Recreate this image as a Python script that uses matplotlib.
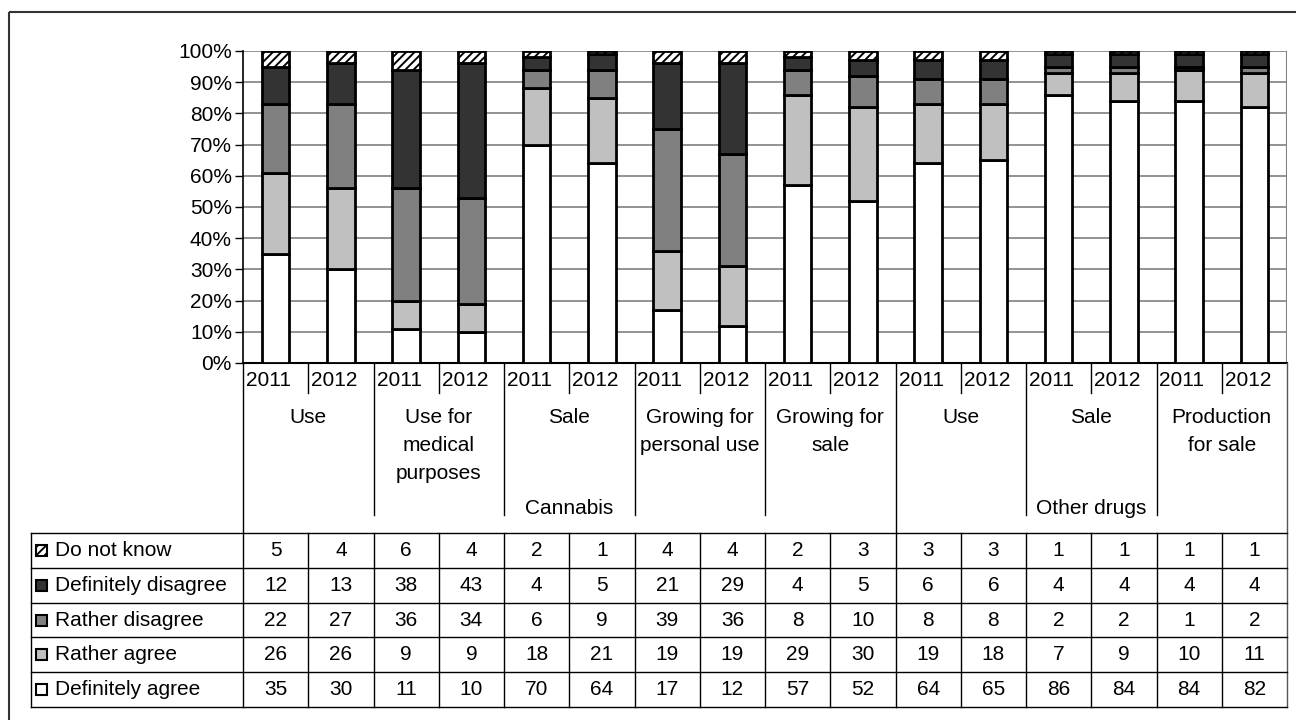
import matplotlib
matplotlib.use("Agg")
import matplotlib.pyplot as plt
from matplotlib.patches import Rectangle
import numpy as np

plt.rcParams['font.family'] = ['Liberation Sans', 'DejaVu Sans']
plt.rcParams['hatch.linewidth'] = 1.4

# survey answers (%), one column per year/topic
years = ["2011", "2012"] * 8
topics = ["Use", "Use for\nmedical\npurposes", "Sale", "Growing for\npersonal use",
          "Growing for\nsale", "Use", "Sale", "Production\nfor sale"]
groups = ["Cannabis", "Other drugs"]
group_sizes = [5, 3]

series = ["Definitely agree", "Rather agree", "Rather disagree", "Definitely disagree", "Do not know"]
definitely_agree = [35, 30, 11, 10, 70, 64, 17, 12, 57, 52, 64, 65, 86, 84, 84, 82]
rather_agree = [26, 26, 9, 9, 18, 21, 19, 19, 29, 30, 19, 18, 7, 9, 10, 11]
rather_disagree = [22, 27, 36, 34, 6, 9, 39, 36, 8, 10, 8, 8, 2, 2, 1, 2]
definitely_disagree = [12, 13, 38, 43, 4, 5, 21, 29, 4, 5, 6, 6, 4, 4, 4, 4]
do_not_know = [5, 4, 6, 4, 2, 1, 4, 4, 2, 3, 3, 3, 1, 1, 1, 1]

values = [definitely_agree, rather_agree, rather_disagree, definitely_disagree, do_not_know]
colors = ["white", "#c0c0c0", "#808080", "#333333", "white"]
hatches = [None, None, None, None, "////"]

W, H = 1296, 720
fig = plt.figure(figsize=(W / 100, H / 100), dpi=100)

# pixel layout
x0, x1 = 243, 1287
y_top, y_axis = 51, 363
n = len(years)
colw = (x1 - x0) / n

ax = fig.add_axes([x0 / W, 1 - y_axis / H, (x1 - x0) / W, (y_axis - y_top) / H])
xs = np.arange(n)
bottom = np.zeros(n)
for vals, c, h in zip(values, colors, hatches):
    pct = np.array(vals) / 100.0
    ax.bar(xs, pct, bottom=bottom, width=0.42, color=c, edgecolor="black",
           linewidth=2, hatch=h, zorder=3)
    bottom += pct
ax.set_xlim(-0.5, n - 0.5)
ax.set_ylim(0, 1)
ax.set_yticks(np.arange(0, 1.01, 0.1))
ax.set_yticklabels([f"{v}%" for v in range(0, 101, 10)], fontsize=15)
ax.set_xticks([])
ax.yaxis.grid(True, color="#808080", linewidth=1.2)
ax.tick_params(axis="y", length=6, width=1, color="black", pad=2)
for s in ["top", "right"]:
    ax.spines[s].set_visible(False)
ax.spines["left"].set_linewidth(1.2)
ax.spines["bottom"].set_linewidth(1.5)
ax.axvline(n - 0.5, color="#808080", linewidth=1.5)

# table overlay in pixel coordinates
tab = fig.add_axes([0, 0, 1, 1])
tab.set_xlim(0, W)
tab.set_ylim(H, 0)
tab.axis("off")

# outer frame
tab.add_patch(Rectangle((9, 12), W + 10, H + 10, fill=False, edgecolor="#333333", linewidth=1.5))

y_year = 393
y_topic = 515
y_rows = 533
y_bot = 707
row_h = (y_bot - y_rows) / len(series)
x_leg = 31
lw = 1.0

# category header lines
tab.plot([x0, x0], [y_axis, y_bot], color="black", lw=lw)
tab.plot([x1, x1], [y_axis, y_bot], color="#555555", lw=lw)
edges = np.cumsum(group_sizes) * 2
for i in range(1, n):
    xl = x0 + i * colw
    if i % 2 == 1:
        ye = y_year
    elif i in edges:
        ye = y_rows
    else:
        ye = y_topic
    tab.plot([xl, xl], [y_axis, ye], color="black", lw=lw)
    tab.plot([xl, xl], [y_rows, y_bot], color="black", lw=lw)

for i, yr in enumerate(years):
    tab.text(x0 + i * colw + 3, 381, yr, fontsize=15, ha="left", va="center")
for j, t in enumerate(topics):
    xc = x0 + (2 * j + 1) * colw
    tab.text(xc, 408, t, fontsize=15, ha="center", va="top", linespacing=1.6)
start = 0
for g, size in zip(groups, group_sizes):
    xc = x0 + (start + size) * colw
    tab.text(xc, 509, g, fontsize=15, ha="center", va="center")
    start += size * 2

# data rows, listed top to bottom in reverse stacking order
for r, k in enumerate(range(len(series) - 1, -1, -1)):
    yt = y_rows + r * row_h
    tab.plot([x_leg, x1], [yt, yt], color="black", lw=lw)
    yc = yt + row_h / 2
    tab.add_patch(Rectangle((x_leg + 5, yc - 5.5), 11, 11, facecolor=colors[k],
                            edgecolor="black", linewidth=1.5, hatch=hatches[k]))
    tab.text(x_leg + 24, yc, series[k], fontsize=15, ha="left", va="center")
    for i in range(n):
        tab.text(x0 + (i + 0.5) * colw, yc, str(values[k][i]), fontsize=15,
                 ha="center", va="center")
tab.plot([x_leg, x1], [y_bot, y_bot], color="black", lw=lw)
tab.plot([x_leg, x_leg], [y_rows, y_bot], color="black", lw=lw)

fig.savefig("out.png", dpi=100)
